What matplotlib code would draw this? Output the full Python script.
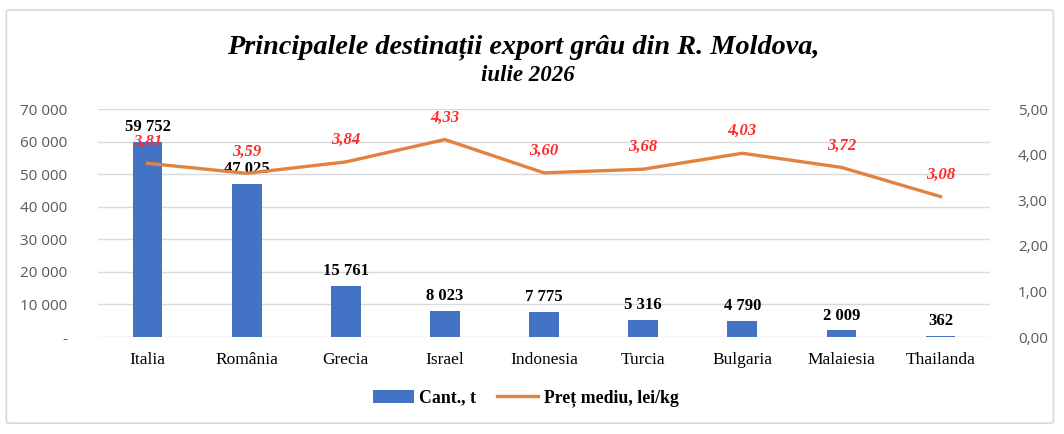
import numpy as np
import matplotlib.pyplot as plt
from matplotlib.patches import FancyBboxPatch
from matplotlib.ticker import FuncFormatter

tari = ["Italia", "România", "Grecia", "Israel", "Indonesia", "Turcia", "Bulgaria", "Malaiesia", "Thailanda"]
cantitate = [59752, 47025, 15761, 8023, 7775, 5316, 4790, 2009, 362]
pret = [3.81, 3.59, 3.84, 4.33, 3.60, 3.68, 4.03, 3.72, 3.08]

serif = "Liberation Serif"
sans = "Open Sans"
albastru = "#4472C4"
portocaliu = "#E3823F"

def mii(v):
    return f"{int(round(v)):,}".replace(",", " ")

fig = plt.figure(figsize=(10.64, 4.34), dpi=100)
fig.patches.append(FancyBboxPatch((0.006, 0.025), 0.984, 0.952, boxstyle="round,pad=0,rounding_size=0.004",
                                  transform=fig.transFigure, fill=False, edgecolor="#D9D9D9", linewidth=1.2))

ax = fig.add_axes([0.0921, 0.2235, 0.8384, 0.5253])
ax2 = ax.twinx()

x = np.arange(len(tari))
bare = ax.bar(x, cantitate, width=0.3, color=albastru, zorder=2, label="Cant., t")
linie, = ax2.plot(x, pret, color=portocaliu, linewidth=2.4, zorder=3, label="Preț mediu, lei/kg")

ax.set_xlim(-0.5, len(tari) - 0.5)
ax.set_ylim(0, 70000)
ax2.set_ylim(0, 5)
ax.set_yticks(np.arange(0, 70001, 10000))
ax2.set_yticks(np.arange(0, 5.01, 1))
ax.yaxis.set_major_formatter(FuncFormatter(lambda v, p: "-" if v == 0 else mii(v)))
ax2.yaxis.set_major_formatter(FuncFormatter(lambda v, p: f"{v:.2f}".replace(".", ",")))
ax.grid(axis="y", color="#D9D9D9", linewidth=1.0, zorder=0)
ax.set_axisbelow(True)

for a in (ax, ax2):
    for s in a.spines.values():
        s.set_visible(False)
    a.tick_params(length=0, labelsize=11, labelcolor="#595959")
    for t in a.get_yticklabels():
        t.set_fontfamily(sans)
ax.tick_params(axis="y", pad=22)
ax2.tick_params(axis="y", pad=20)
ax.set_xticks(x)
ax.set_xticklabels(tari, fontfamily=serif, fontsize=12.5, color="black")
ax.tick_params(axis="x", pad=11)

for xi, v in zip(x, cantitate):
    ax.annotate(mii(v), (xi, v), xytext=(0, 5), textcoords="offset points", ha="center", va="bottom",
                fontfamily=serif, fontweight="bold", fontsize=12, color="black", zorder=5)
for xi, v in zip(x, pret):
    ax2.annotate(f"{v:.2f}".replace(".", ","), (xi, v), xytext=(0, 10), textcoords="offset points",
                 ha="center", va="bottom", fontfamily=serif, fontweight="bold", fontstyle="italic",
                 fontsize=12, color="#FF2A2A", zorder=5)

fig.text(0.492, 0.892, "Principalele destinații export grâu din R. Moldova,", ha="center", va="center",
         fontfamily=serif, fontweight="bold", fontstyle="italic", fontsize=20.3)
fig.text(0.496, 0.825, "iulie 2026", ha="center", va="center",
         fontfamily=serif, fontweight="bold", fontstyle="italic", fontsize=16.5)

fig.legend([bare, linie], ["Cant., t", "Preț mediu, lei/kg"], loc="center", bbox_to_anchor=(0.494, 0.082),
           ncol=2, frameon=False, prop={"family": serif, "weight": "bold", "size": 12.8},
           handlelength=2.3, columnspacing=1.2, handletextpad=0.3)

fig.savefig("out.png", dpi=100)
